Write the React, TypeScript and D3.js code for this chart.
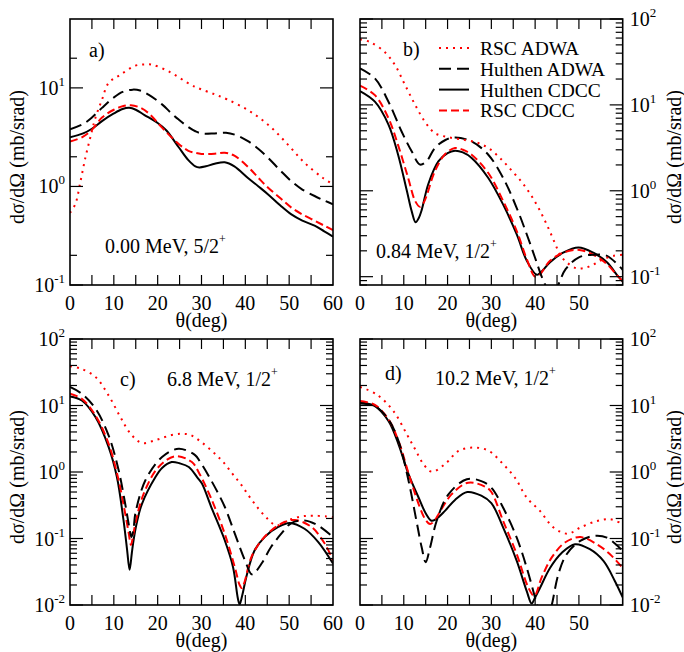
import React from "react";
import * as d3 from "d3";

type Pt = [number, number];

// theta (deg), dsigma/dOmega (mb/srad)

// a) 0.00 MeV, 5/2+
const aRscAdwa: Pt[] = [[0, 0.54], [1.2, 0.66], [2.4, 1.13], [3.5, 1.95], [4.6, 3.1], [5.8, 4.97], [7.3, 7.6], [8.8, 11.2], [11.5, 13.6], [14.9, 16.8], [17, 17.3], [18.7, 17.2], [22.5, 14.7], [27.5, 10.8], [29.6, 9.8], [33, 8.6], [36, 7.6], [41, 5.8], [45.6, 4.08], [49.7, 2.66], [53.5, 1.74], [57.7, 1.22], [60, 1.05]];
const aHulAdwa: Pt[] = [[0, 3.8], [3, 4.3], [5, 5.0], [7.3, 6.27], [10, 8.0], [12, 9.1], [14.3, 9.6], [16, 9.4], [18, 8.5], [21, 6.8], [23, 5.6], [24.8, 4.77], [27, 4.0], [28.6, 3.63], [30, 3.45], [33, 3.45], [35.6, 3.5], [38, 3.3], [40.6, 2.88], [43, 2.4], [45.2, 1.95], [48, 1.45], [50.5, 1.13], [53, 0.93], [55.8, 0.8], [58, 0.72], [60, 0.66]];
const aHulCdcc: Pt[] = [[0, 3.16], [3, 3.45], [5, 3.85], [7.3, 4.6], [10, 5.5], [12, 6.1], [13.5, 6.27], [15, 6.0], [17, 5.3], [20, 4.4], [22, 3.7], [24.8, 2.5], [27, 1.85], [28.6, 1.6], [29.5, 1.56], [31, 1.6], [33, 1.7], [35.3, 1.76], [37.5, 1.6], [40.6, 1.22], [43, 1.0], [45.2, 0.83], [48, 0.64], [50.5, 0.52], [53, 0.45], [55.8, 0.4], [58, 0.35], [60, 0.31]];
const aRscCdcc: Pt[] = [[0, 2.85], [3, 3.2], [5, 3.75], [7.3, 5.0], [10, 6.0], [12, 6.5], [13.9, 6.67], [16, 6.3], [18, 5.5], [21, 3.95], [24.8, 2.7], [27, 2.3], [28.6, 2.19], [30, 2.14], [33, 2.15], [35.3, 2.2], [37.5, 2.05], [40.6, 1.58], [43, 1.22], [45.2, 0.97], [48, 0.76], [50.5, 0.61], [53, 0.52], [55.8, 0.45], [58, 0.4], [60, 0.36]];

// b) 0.84 MeV, 1/2+
const bRscAdwa: Pt[] = [[0, 58], [2.3, 54], [5.7, 41], [8, 29], [10.3, 17], [12.6, 10], [14.8, 6.4], [17.1, 4.7], [20.2, 4.2], [24, 3.9], [27, 3.6], [29.5, 3.1], [32, 2.4], [34.5, 1.75], [37, 1.25], [39, 0.9], [41, 0.6], [43, 0.37], [44.6, 0.24], [45.7, 0.18], [47.2, 0.147], [49.5, 0.125], [51.5, 0.127], [53.5, 0.14], [55.6, 0.16], [58, 0.175], [60, 0.18]];
const bHulAdwa: Pt[] = [[0, 26.6], [3.4, 20.4], [6.5, 10.9], [9.5, 4.9], [11.8, 2.88], [13.7, 2.02], [15.2, 2.2], [17.1, 3.15], [19.5, 3.9], [21.7, 4.18], [25.5, 3.76], [29.3, 2.63], [32.7, 1.41], [35.8, 0.63], [38.1, 0.31], [40, 0.165], [41.5, 0.1], [42.6, 0.075], [43.8, 0.06], [45, 0.075], [47, 0.123], [50, 0.168], [53.3, 0.18], [56.4, 0.175], [60, 0.12]];
const bHulCdcc: Pt[] = [[0, 14.5], [3.4, 10.9], [6.5, 5.9], [8.7, 2.63], [10.7, 1.0], [11.8, 0.58], [12.7, 0.43], [13.4, 0.48], [14.1, 0.6], [15.6, 1.2], [17.9, 2.2], [20, 2.75], [21.7, 2.93], [23.5, 2.8], [25.5, 2.41], [29.3, 1.41], [32.7, 0.69], [35.8, 0.31], [38.1, 0.153], [40.4, 0.105], [41.5, 0.115], [43.4, 0.147], [46.4, 0.19], [49.9, 0.219], [53.3, 0.19], [56.4, 0.147], [59, 0.1], [60, 0.088]];
const bRscCdcc: Pt[] = [[0, 16.7], [3.4, 13], [6.5, 7.0], [8.7, 3.4], [11, 1.41], [12.6, 0.76], [13.7, 0.65], [14.5, 0.72], [15.2, 0.87], [17.1, 1.69], [19.5, 2.7], [21.7, 3.15], [23.5, 3.0], [25.5, 2.63], [29.3, 1.61], [32.7, 0.76], [35.8, 0.34], [38.1, 0.16], [40, 0.1], [41, 0.105], [43.4, 0.153], [46.4, 0.19], [50.1, 0.205], [53.3, 0.18], [56.4, 0.14], [59, 0.1], [60, 0.089]];

// c) 6.8 MeV, 1/2+
const cRscAdwa: Pt[] = [[0, 39], [2.4, 36], [5.8, 27], [8.8, 14.2], [11.5, 6.7], [13.8, 3.77], [16.4, 2.73], [19.8, 3.06], [23.2, 3.6], [25.5, 3.75], [27.5, 3.6], [30, 2.8], [33, 1.9], [35, 1.4], [37, 0.95], [39, 0.65], [41, 0.42], [43, 0.28], [45, 0.2], [47.1, 0.157], [49.7, 0.187], [52.8, 0.215], [55.4, 0.22], [58.5, 0.215], [60, 0.21]];
const cHulAdwa: Pt[] = [[0, 19], [2.7, 15], [5.8, 9.0], [8.8, 3.56], [11.1, 1.06], [12.6, 0.33], [13.5, 0.15], [14, 0.105], [14.5, 0.14], [14.9, 0.236], [17.2, 0.75], [21, 1.68], [24.8, 2.24], [28.6, 1.78], [29.6, 1.45], [32.2, 0.75], [35.3, 0.3], [37.6, 0.118], [39.9, 0.047], [41.4, 0.029], [42, 0.03], [43.7, 0.042], [45.9, 0.075], [48.2, 0.118], [50.5, 0.171], [53.5, 0.187], [56.6, 0.157], [60, 0.105]];
const cHulCdcc: Pt[] = [[0, 13.7], [2.7, 11.9], [5.8, 6.7], [8.8, 2.38], [10.7, 0.84], [12.2, 0.19], [13, 0.07], [13.6, 0.034], [14.1, 0.06], [14.5, 0.094], [15.3, 0.18], [16.4, 0.33], [19.5, 0.84], [21, 1.15], [23.2, 1.41], [25, 1.35], [27.1, 1.19], [29.2, 0.8], [30.1, 0.67], [32.2, 0.3], [35.3, 0.094], [37.2, 0.037], [38.3, 0.0125], [38.7, 0.0102], [39.3, 0.014], [40.2, 0.026], [42.1, 0.066], [44.4, 0.105], [47.5, 0.149], [50.1, 0.171], [53.5, 0.14], [56.6, 0.089], [60, 0.042]];
const cRscCdcc: Pt[] = [[0, 15], [2.7, 12.6], [5.8, 7.1], [8.8, 2.67], [11.1, 0.75], [12.6, 0.236], [13.4, 0.12], [13.9, 0.08], [14.4, 0.11], [14.9, 0.167], [16.8, 0.47], [20.2, 1.19], [24, 1.72], [27.8, 1.41], [29.5, 0.95], [32.2, 0.4], [35.3, 0.118], [37.6, 0.037], [38.7, 0.02], [39.2, 0.018], [39.8, 0.022], [41.4, 0.053], [43.7, 0.094], [45.9, 0.132], [49, 0.177], [51.3, 0.19], [55.1, 0.149], [58.1, 0.084], [60, 0.047]];

// d) 10.2 MeV, 1/2+
const dRscAdwa: Pt[] = [[0, 19], [3.8, 14.7], [7.6, 8.3], [10.7, 3.69], [12.6, 2.19], [14.5, 1.31], [16.4, 1.01], [19.4, 1.31], [22.5, 2.07], [25.9, 2.33], [29.3, 2.1], [32.7, 1.31], [35.4, 0.82], [38.1, 0.41], [41.1, 0.26], [44.2, 0.146], [47.5, 0.118], [50.3, 0.146], [54.1, 0.183], [57.1, 0.195], [60, 0.165]];
const dHulAdwa: Pt[] = [[0, 10.7], [3.4, 9.8], [6.5, 6.2], [8.8, 2.92], [11.1, 0.73], [12.9, 0.183], [14.1, 0.073], [15, 0.044], [16, 0.073], [17.5, 0.183], [20.2, 0.46], [24.4, 0.78], [27.7, 0.73], [30, 0.58], [32.7, 0.29], [35.8, 0.103], [38.1, 0.036], [39.6, 0.016], [40.4, 0.0103], [41.5, 0.006], [42.8, 0.006], [43.8, 0.01], [45.3, 0.029], [47.2, 0.058], [50.3, 0.092], [53.3, 0.109], [56.4, 0.103], [60, 0.065]];
const dHulCdcc: Pt[] = [[0, 11.1], [3.4, 9.8], [6.5, 5.85], [8.8, 2.61], [11.1, 0.92], [13.4, 0.41], [15, 0.24], [16.3, 0.185], [17.1, 0.19], [19.4, 0.26], [21.7, 0.38], [24.5, 0.5], [27.7, 0.44], [30, 0.34], [32.7, 0.146], [35.8, 0.046], [38.1, 0.016], [39.2, 0.0105], [40, 0.013], [41.1, 0.018], [43.4, 0.036], [46.1, 0.061], [49.1, 0.082], [52.5, 0.069], [55.6, 0.046], [58.2, 0.023], [60, 0.013]];
const dRscCdcc: Pt[] = [[0, 11.7], [3.4, 10.2], [6.5, 6.2], [8.8, 2.92], [11.4, 0.82], [13.7, 0.29], [15, 0.19], [16, 0.165], [17, 0.185], [17.9, 0.23], [20.9, 0.46], [24.7, 0.69], [28.6, 0.6], [30, 0.5], [32.7, 0.183], [35.8, 0.058], [38.5, 0.018], [39.8, 0.0137], [41.5, 0.026], [43.8, 0.052], [46.8, 0.087], [50.3, 0.105], [54.1, 0.082], [57.1, 0.058], [60, 0.036]];

const seriesNames = ["RSC ADWA", "Hulthen ADWA", "Hulthen CDCC", "RSC CDCC"];
const xTickLabelsFull = [0, 10, 20, 30, 40, 50, 60];
const xTickLabelsShort = [0, 10, 20, 30, 40, 50];
const panelTags = ["a)", "b)", "c)", "d)"];
const stateNotes = ["0.00 MeV, 5/2", "0.84 MeV, 1/2", "6.8 MeV, 1/2", "10.2 MeV, 1/2"];

const W = 684;
const H = 652;
const serif = { fontFamily: '"Liberation Serif"' };

// line style per series (same order as seriesNames)
const styles = [
  { color: "#ff0000", dash: "2 5" },
  { color: "#000000", dash: "12 6" },
  { color: "#000000", dash: undefined },
  { color: "#ff0000", dash: "8 4" },
];

const panels = [
  { left: 70, right: 333, top: 19, bottom: 285, yMin: 0.1, yMax: 50, side: "left", xLabels: xTickLabelsFull, minor: [2], data: [aRscAdwa, aHulAdwa, aHulCdcc, aRscCdcc], tag: [89, 57], note: [105, 253] },
  { left: 360, right: 622.7, top: 19, bottom: 285, yMin: 0.08, yMax: 100, side: "right", xLabels: xTickLabelsShort, minor: [2, 3, 4, 5, 6, 7, 8, 9], data: [bRscAdwa, bHulAdwa, bHulCdcc, bRscCdcc], tag: [403, 56], note: [376, 258] },
  { left: 70, right: 333, top: 339, bottom: 605, yMin: 0.01, yMax: 100, side: "left", xLabels: xTickLabelsFull, minor: [2, 3, 4, 5, 6, 7, 8, 9], data: [cRscAdwa, cHulAdwa, cHulCdcc, cRscCdcc], tag: [120, 386], note: [167, 386] },
  { left: 360, right: 622.7, top: 339, bottom: 605, yMin: 0.01, yMax: 100, side: "right", xLabels: xTickLabelsShort, minor: [2, 3, 4, 5, 6, 7, 8, 9], data: [dRscAdwa, dHulAdwa, dHulCdcc, dRscCdcc], tag: [385, 380], note: [435, 385] },
];

const Panel = ({ p, pi }: { p: (typeof panels)[number]; pi: number }) => {
  const x = d3.scaleLinear().domain([0, 60]).range([p.left, p.right]);
  const y = d3.scaleLog().domain([p.yMin, p.yMax]).range([p.bottom, p.top]);
  const line = d3.line<Pt>()
    .x((d) => x(d[0]))
    .y((d) => y(d[1]))
    .curve(d3.curveCatmullRom.alpha(0.5));
  const clipId = `clip-${pi}`;

  const d0 = Math.floor(Math.log10(p.yMin));
  const d1 = Math.ceil(Math.log10(p.yMax));
  const yTicks: { v: number; major: boolean }[] = [];
  const decades: number[] = [];
  for (let dec = d0; dec <= d1; dec++) {
    [1, ...p.minor].forEach((m) => {
      const v = m * Math.pow(10, dec);
      if (v >= p.yMin * 0.999 && v <= p.yMax * 1.001) yTicks.push({ v, major: m === 1 });
    });
    const v = Math.pow(10, dec);
    if (v >= p.yMin * 0.999 && v <= p.yMax * 1.001) decades.push(dec);
  }
  const xTicks = d3.range(5, 60, 5);
  const left = p.side === "left";

  return (
    <g>
      <clipPath id={clipId}>
        <rect x={p.left} y={p.top} width={p.right - p.left} height={p.bottom - p.top} />
      </clipPath>
      <g clipPath={`url(#${clipId})`}>
        {[2, 3, 1, 0].map((si) => (
          <path
            key={si}
            d={line(p.data[si]) || ""}
            fill="none"
            stroke={styles[si].color}
            strokeWidth={2}
            strokeDasharray={styles[si].dash}
            strokeLinejoin="round"
          />
        ))}
      </g>
      <rect x={p.left} y={p.top} width={p.right - p.left} height={p.bottom - p.top}
        fill="none" stroke="#000" strokeWidth={1.6} />
      {xTicks.map((t) => (
        <g key={`xt${t}`} stroke="#000" strokeWidth={1.2}>
          <line x1={x(t)} x2={x(t)} y1={p.bottom} y2={p.bottom - 10} />
          <line x1={x(t)} x2={x(t)} y1={p.top} y2={p.top + 10} />
        </g>
      ))}
      {yTicks.map(({ v, major }, i) => {
        const len = major ? 13 : 7;
        return (
          <g key={`yt${i}`} stroke="#000" strokeWidth={1.2}>
            <line x1={p.left} x2={p.left + len} y1={y(v)} y2={y(v)} />
            <line x1={p.right} x2={p.right - len} y1={y(v)} y2={y(v)} />
          </g>
        );
      })}
      {decades.map((dec) => (
        <text key={`yl${dec}`} x={left ? p.left - 5 : p.right + 7} y={y(Math.pow(10, dec)) + 7}
          textAnchor={left ? "end" : "start"} fontSize={20} style={serif}>
          <tspan>10</tspan>
          <tspan dy={-9} fontSize={13}>{String(dec)}</tspan>
        </text>
      ))}
      {p.xLabels.map((t) => (
        <text key={`xl${t}`} x={x(t)} y={p.bottom + 25} textAnchor="middle" fontSize={20} style={serif}>
          {t}
        </text>
      ))}
      <text x={(p.left + p.right) / 2} y={p.bottom + 42} textAnchor="middle" fontSize={20} style={serif}>
        θ(deg)
      </text>
      <text transform={`translate(${left ? 24 : 681},${(p.top + p.bottom) / 2 + 5}) rotate(-90)`}
        textAnchor="middle" fontSize={20} style={serif}>
        dσ/dΩ (mb/srad)
      </text>
      <text x={p.tag[0]} y={p.tag[1]} fontSize={20} style={serif}>{panelTags[pi]}</text>
      <text x={p.note[0]} y={p.note[1]} fontSize={20} style={serif}>
        <tspan>{stateNotes[pi]}</tspan>
        <tspan dy={-10} fontSize={12}>+</tspan>
      </text>
    </g>
  );
};

const App = () => {
  return (
    <div style={{ position: "absolute", left: 0, top: 0 }}>
      <svg width={W} height={H} style={{ display: "block" }}>
        <rect width={W} height={H} fill="#fff" />
        {panels.map((p, pi) => (
          <Panel key={pi} p={p} pi={pi} />
        ))}
        {/* legend inside panel b */}
        {seriesNames.map((name, i) => {
          const yy = 48 + i * 20.8;
          return (
            <g key={name}>
              <line x1={439} x2={469} y1={yy} y2={yy} stroke={styles[i].color}
                strokeWidth={2} strokeDasharray={styles[i].dash} />
              <text x={480} y={yy + 7} fontSize={19.5} style={serif}>{name}</text>
            </g>
          );
        })}
      </svg>
    </div>
  );
};

export default App;
